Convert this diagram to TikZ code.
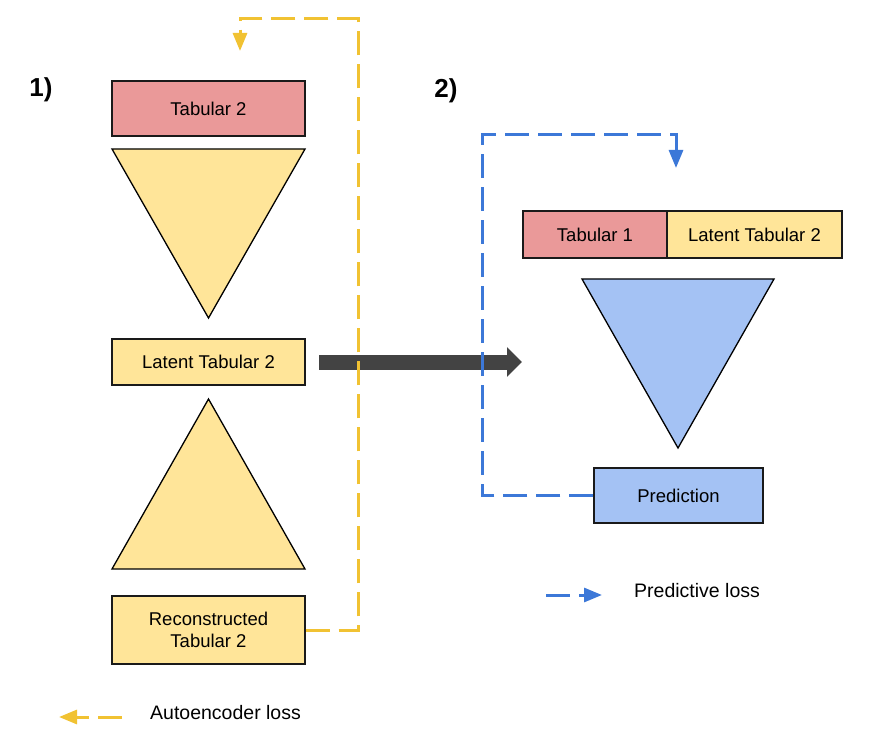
\documentclass[tikz,border=0pt]{standalone}
\usepackage{fontspec}
\setmainfont{Liberation Sans}
\usetikzlibrary{arrows.meta}
\definecolor{redfill}{HTML}{EA9999}
\definecolor{yelfill}{HTML}{FFE599}
\definecolor{bluefill}{HTML}{A4C2F4}
\definecolor{yelline}{HTML}{F1C232}
\definecolor{blueline}{HTML}{3C78D8}
\definecolor{darkarrow}{HTML}{434343}
\definecolor{edgecol}{HTML}{1A1A1A}
\begin{document}
\begin{tikzpicture}[x=1pt,y=-1pt,
  box/.style={draw=edgecol, line width=1.3pt, inner sep=0pt, align=center,
    font=\fontsize{18.5}{22}\selectfont},
  tri/.style={draw=black, line width=1.3pt, line join=miter},
  lbl/.style={inner sep=0pt, font=\fontsize{26}{30}\selectfont\bfseries},
  legtext/.style={inner sep=0pt, anchor=west, font=\fontsize{19.5}{23}\selectfont},
  ydash/.style={draw=yelline, line width=3pt, dash pattern=on 24pt off 9pt,
    -{Triangle[length=18pt,width=14pt]}},
  bdash/.style={draw=blueline, line width=3pt, dash pattern=on 24pt off 9pt,
    -{Triangle[length=18pt,width=14pt]}},
  bigarrow/.style={draw=darkarrow, line width=15pt,
    -{Triangle[length=15pt,width=29pt]}}
]
\useasboundingbox (0,0) rectangle (875,751);

% labels
\node[lbl] (l1) at (41,90) {1)};
\node[lbl] (l2) at (446,91) {2)};

% part 1
\node[box, fill=redfill, minimum width=193pt, minimum height=55pt] (tab2) at (208.5,108.5) {Tabular 2};
\draw[tri, fill=yelfill] (112,149) -- (305,149) -- (208.5,318) -- cycle;
\node[box, fill=yelfill, minimum width=193pt, minimum height=46pt] (lat) at (208.5,362) {Latent Tabular 2};
\draw[tri, fill=yelfill] (208.5,399) -- (305,569) -- (112,569) -- cycle;
\node[box, fill=yelfill, minimum width=193pt, minimum height=68pt] (rec) at (208.5,630) {Reconstructed\\Tabular 2};

% part 2
\node[box, fill=redfill, minimum width=144pt, minimum height=47pt] (tab1) at (595,234.5) {Tabular 1};
\node[box, fill=yelfill, minimum width=175pt, minimum height=47pt] (lat2) at (754.5,234.5) {Latent Tabular 2};
\draw[tri, fill=bluefill] (582,279) -- (774,279) -- (678,448) -- cycle;
\node[box, fill=bluefill, minimum width=169pt, minimum height=55pt] (pred) at (678.5,495.5) {Prediction};

% big arrow
\coordinate (gstart) at (319,362);
\coordinate (gend) at (522,362);
\draw[bigarrow] (gstart) -- (gend);

% autoencoder loss path
\coordinate (y1) at (358,630);
\coordinate (y2) at (358,19);
\coordinate (y3) at (240,19);
\coordinate (y4) at (240,51);
\draw[ydash] (rec.east) -- (y1) -- (y2) -- (y3) -- (y4);

% predictive loss path
\coordinate (b1) at (482,495.5);
\coordinate (b2) at (482,135);
\coordinate (b3) at (676,135);
\coordinate (b4) at (676,168);
\draw[bdash] (pred.west) -- (b1) -- (b2) -- (b3) -- (b4);

% legends
\coordinate (al0) at (122,717);
\coordinate (al1) at (59,717);
\draw[ydash] (al0) -- (al1);
\node[legtext] (atext) at (150,713) {Autoencoder loss};

\coordinate (bl0) at (546,595);
\coordinate (bl1) at (602,595);
\draw[bdash] (bl0) -- (bl1);
\node[legtext] (ptext) at (634,591) {Predictive loss};
\end{tikzpicture}
\end{document}
